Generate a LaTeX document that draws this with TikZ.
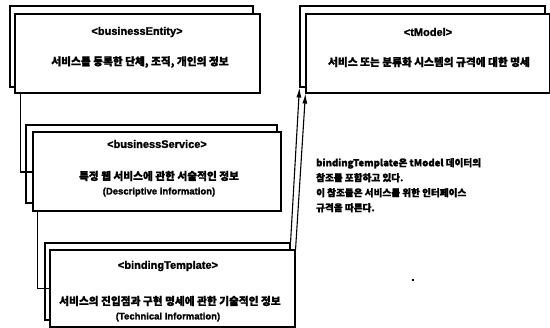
\documentclass[tikz,border=0pt]{standalone}
\usepackage{fontspec}
\setmainfont{Noto Sans CJK KR}[BoldFeatures={FakeBold=1.2}]
\newfontfamily\lat{Liberation Sans}[BoldFeatures={FakeBold=1.5}]
\usetikzlibrary{arrows.meta}
\tikzset{
  box/.style={draw=black, line width=1.1pt, fill=white, inner sep=0pt, anchor=center},
  ttl/.style={font=\lat\bfseries\fontsize{11}{12}\selectfont, inner sep=0pt, anchor=center},
  txt/.style={font=\bfseries\fontsize{10.7}{12}\selectfont, inner sep=0pt, anchor=center},
  eng/.style={font=\lat\bfseries\fontsize{9.5}{11}\selectfont, inner sep=0pt, anchor=center},
  note/.style={font=\bfseries\fontsize{9.6}{15}\selectfont, inner sep=0pt, anchor=north west, align=left},
  conn/.style={draw=black, line width=1.1pt},
  arr/.style={draw=black, line width=1.1pt, -{Latex[length=10pt,width=5pt]}}
}
\begin{document}
\begin{tikzpicture}[x=1pt,y=-1pt]
\useasboundingbox (0,0) rectangle (550,328);
% businessEntity
\node[box, minimum width=243pt, minimum height=81pt] (entB) at (131.5,46.5) {};
\node[box, minimum width=245pt, minimum height=79pt] (entF) at (137.5,53.5) {};
\node[ttl] (entT) at (137,32) {<businessEntity>};
\node[txt] (entD) at (140,62) {서비스를 등록한 단체, 조직, 개인의 정보};
% businessService
\node[box, minimum width=251pt, minimum height=78pt] (svcB) at (151.5,164) {};
\node[box, minimum width=248pt, minimum height=79pt] (svcF) at (157,171.5) {};
\node[ttl] (svcT) at (157,144) {<businessService>};
\node[txt] (svcD) at (159,176) {특정 웹 서비스에 관한 서술적인 정보};
\node[eng] (svcE) at (159,192) {(Descriptive information)};
% bindingTemplate
\node[box, minimum width=245pt, minimum height=77pt] (bindB) at (167.5,281.5) {};
\node[box, minimum width=245pt, minimum height=77pt] (bindF) at (172.5,288.5) {};
\node[ttl] (bindT) at (168,266) {<bindingTemplate>};
\node[txt] (bindD) at (170,301) {서비스의 진입점과 구현 명세에 관한 기술적인 정보};
\node[eng] (bindE) at (168,317) {(Technical Information)};
% tModel
\node[box, minimum width=245pt, minimum height=81pt] (tmB) at (422.5,46.5) {};
\node[box, minimum width=243.5pt, minimum height=79pt] (tmF) at (427.75,53.5) {};
\node[ttl] (tmT) at (428,32) {<tModel>};
\node[txt] (tmD) at (429,62) {서비스 또는 분류화 시스템의 규격에 대한 명세};
% connectors
\draw[conn] ([xshift=6pt]entF.south west) |- ([yshift=-0.5pt]svcF.west);
\draw[conn] ([xshift=5pt]svcF.south west) |- (bindF.west);
\draw[arr] (bindB.north east) -- (tmB.south west);
\draw[arr] (bindF.north east) -- (tmF.south west);
% annotation
\node[note] (note) at (316,158) {bindingTemplate은 tModel 데이터의\\참조를 포함하고 있다.\\이 참조들은 서비스를 위한 인터페이스\\규격을 따른다.};
\fill[black] (412,279) rectangle (414,281);
\end{tikzpicture}
\end{document}
